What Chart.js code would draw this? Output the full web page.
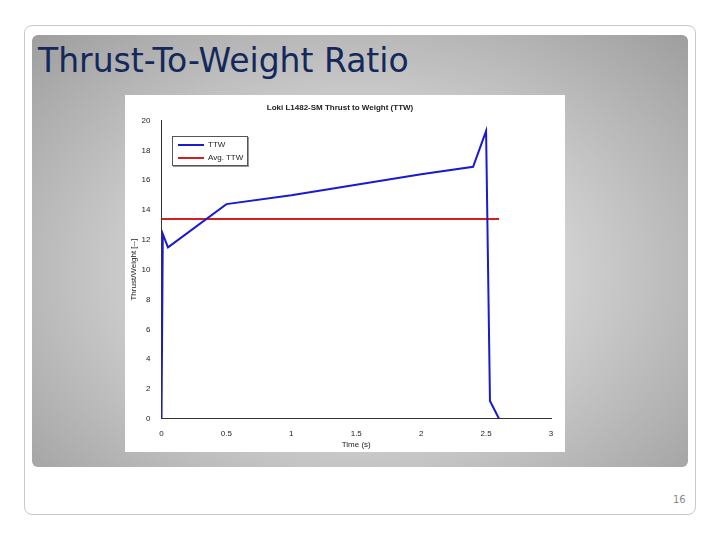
<!DOCTYPE html>
<html><head><meta charset="utf-8">
<script src="https://cdn.jsdelivr.net/npm/chart.js@4"></script>
<style>
body{margin:0;width:720px;height:540px;background:#fff;position:relative;overflow:hidden;font-family:"DejaVu Sans",sans-serif}
#frame{position:absolute;left:24px;top:25px;width:670px;height:488px;border:1px solid #c8c8c8;border-radius:8px}
#panel{position:absolute;left:32px;top:35px;width:656px;height:432px;border-radius:6px;background:radial-gradient(ellipse at 50% 55%,#f4f4f4 0%,#d0d0d0 45%,#9e9e9e 100%)}
#title{position:absolute;left:38px;top:41px;font-size:33px;color:#14285a;font-family:"DejaVu Sans",sans-serif}
#page{position:absolute;left:673px;top:494px;font-size:10px;color:#888}
#box{position:absolute;left:125px;top:95px;width:440px;height:357px;background:#fff}
#legend{position:absolute;left:172px;top:136px;width:74px;height:28px;border:1px solid #555;background:#fff;font:8px "Liberation Sans",Arial,sans-serif;color:#222;box-shadow:1px 1px 0 #999}
#legend div{position:absolute;left:5px;height:13px;line-height:13px}
#legend span{display:inline-block;width:26px;height:2px;vertical-align:middle;margin-right:4px}
</style></head><body>
<div id="frame"></div>
<div id="panel"></div>
<div id="title">Thrust-To-Weight Ratio</div>
<div id="box"><canvas id="myChart" width="440" height="357"></canvas></div>
<div id="legend">
	<div style="top:1px"><span style="background:#1a1ad0"></span>TTW</div>
	<div style="top:14px"><span style="background:#d02020"></span>Avg. TTW</div>
</div>
<div id="page">16</div>
<script>
var time = [0, 0.01, 0.05, 0.5, 1, 1.5, 2, 2.4, 2.5, 2.53, 2.6];
var ttw = [0, 12.4, 11.5, 14.4, 15, 15.7, 16.4, 16.9, 19.3, 1.2, 0];
var avgTime = [0, 2.6];
var avgTtw = [13.4, 13.4];

function pts(xs, ys){
	var out = [];
	for (var i = 0; i < xs.length; i++){
		out[i] = {x: xs[i], y: ys[i]};
	}
	return out;
}

var f = "'Liberation Sans', Arial, sans-serif";
var ctx = document.getElementById('myChart').getContext('2d');
var chart = new Chart(ctx, {
	type: 'line',
	data: {
		datasets: [{
			label: 'TTW',
			data: pts(time, ttw),
			borderColor: '#1a1ad0',
			borderWidth: 2,
			pointRadius: 0,
			tension: 0
		}, {
			label: 'Avg. TTW',
			data: pts(avgTime, avgTtw),
			borderColor: '#d02020',
			borderWidth: 2,
			pointRadius: 0
		}]
	},
	options: {
		responsive: false,
		animation: false,
		layout: {padding: {left: 4, right: 14, top: 0, bottom: 2}},
		plugins: {
			title: {display: true, text: 'Loki L1482-SM Thrust to Weight (TTW)', color: '#222', font: {family: f, size: 8, weight: 'bold'}, padding: {top: 8, bottom: 8}},
			legend: {display: false}
		},
		scales: {
			x: {
				type: 'linear', min: 0, max: 3,
				ticks: {stepSize: 0.5, color: '#222', font: {family: f, size: 8}, padding: 2,
					callback: function(v){ return String(v); }},
				grid: {display: false},
				border: {color: '#333'},
				title: {display: true, text: 'Time (s)', color: '#222', font: {family: f, size: 8}, padding: 0}
			},
			y: {
				min: 0, max: 20,
				ticks: {stepSize: 2, color: '#222', font: {family: f, size: 8}, padding: 3},
				grid: {display: false},
				border: {color: '#333'},
				title: {display: true, text: 'Thrust/Weight [--]', color: '#222', font: {family: f, size: 8}, padding: 0}
			}
		}
	}
});
</script>
</body></html>
